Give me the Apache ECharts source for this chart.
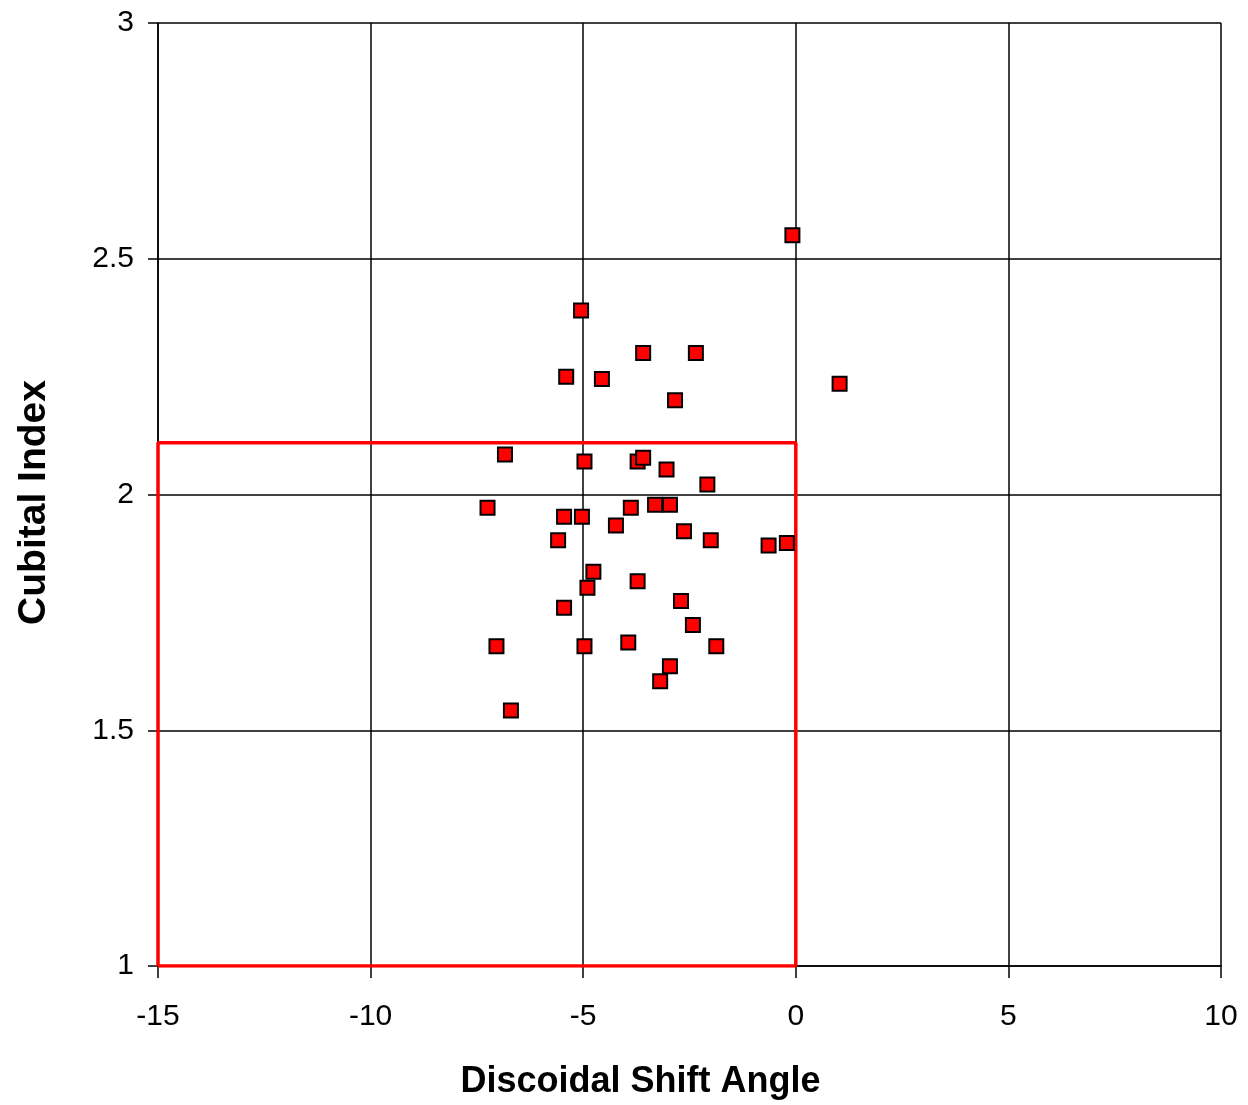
<!DOCTYPE html>
<html>
<head>
<meta charset="utf-8">
<script src="https://cdn.jsdelivr.net/npm/echarts@6/dist/echarts.min.js"></script>
<style>
html,body{margin:0;padding:0;background:#fff;}
#chart{width:1248px;height:1105px;}
</style>
</head>
<body>
<div id="chart"></div>
<script>
// Discoidal shift angle (x) and cubital index (y) for each specimen
const shiftAngle = [-0.08, -5.05, -3.59, -2.35, -5.40, -4.56, -2.84, 1.03, -6.84, -4.97,
  -3.72, -3.59, -3.04, -2.08, -7.25, -5.45, -5.03, -3.88, -3.31, -2.96,
  -4.23, -5.59, -2.63, -2.00, -0.64, -0.21, -4.76, -4.90, -3.72, -5.45,
  -2.70, -2.42, -7.04, -4.97, -3.94, -1.87, -2.96, -3.19, -6.70];
const cubitalIndex = [2.55, 2.39, 2.30, 2.30, 2.25, 2.245, 2.20, 2.235, 2.085, 2.07,
  2.07, 2.078, 2.053, 2.021, 1.972, 1.953, 1.953, 1.972, 1.978, 1.978,
  1.934, 1.903, 1.922, 1.903, 1.892, 1.897, 1.836, 1.802, 1.816, 1.760,
  1.774, 1.723, 1.678, 1.678, 1.686, 1.678, 1.636, 1.604, 1.542];
// Reference region (box) corners
const boxX = [-15, 0, 0, -15, -15];
const boxY = [1, 1, 2.11, 2.11, 1];
const xTicks = {min: -15, max: 10, interval: 5};
const yTicks = {min: 1, max: 3, interval: 0.5};

const points = shiftAngle.map((x, i) => [x, cubitalIndex[i]]);
const box = boxX.map((x, i) => [x, boxY[i]]);

const font = '"Liberation Sans", Arial, sans-serif';
const chart = echarts.init(document.getElementById('chart'));
chart.setOption({
  animation: false,
  backgroundColor: '#fff',
  grid: {left: 158, right: 27, top: 23, bottom: 138},
  xAxis: {
    type: 'value', min: xTicks.min, max: xTicks.max, interval: xTicks.interval,
    name: 'Discoidal Shift Angle', nameLocation: 'middle', nameGap: 98,
    nameTextStyle: {fontFamily: font, fontSize: 36, fontWeight: 'bold', color: '#000',
      padding: [0, 98, 0, 0]},
    axisLine: {onZero: false, lineStyle: {color: '#000', width: 1.5}},
    axisTick: {show: true, length: 12, lineStyle: {color: '#000', width: 1.5}},
    axisLabel: {fontFamily: font, fontSize: 30, color: '#000', margin: 36},
    splitLine: {show: true, lineStyle: {color: '#000', width: 1.5}}
  },
  yAxis: {
    type: 'value', min: yTicks.min, max: yTicks.max, interval: yTicks.interval,
    name: 'Cubital Index', nameLocation: 'middle', nameGap: 104, nameRotate: 90,
    nameTextStyle: {fontFamily: font, fontSize: 39, fontWeight: 'bold', color: '#000',
      padding: [0, 16, 0, 0]},
    axisLine: {show: true, onZero: false, lineStyle: {color: '#000', width: 1.5}},
    axisTick: {show: true, length: 10, lineStyle: {color: '#000', width: 1.5}},
    axisLabel: {fontFamily: font, fontSize: 30, color: '#000', margin: 24,
      formatter: v => String(v)},
    splitLine: {show: true, lineStyle: {color: '#000', width: 1.5}}
  },
  series: [
    {
      type: 'line', data: box, symbol: 'none', z: 3,
      lineStyle: {color: '#ff0000', width: 3.5}
    },
    {
      type: 'scatter', data: points, symbol: 'rect', symbolSize: 14, z: 5,
      itemStyle: {color: '#ff0000', borderColor: '#000', borderWidth: 2, opacity: 1}
    }
  ]
});
</script>
</body>
</html>
